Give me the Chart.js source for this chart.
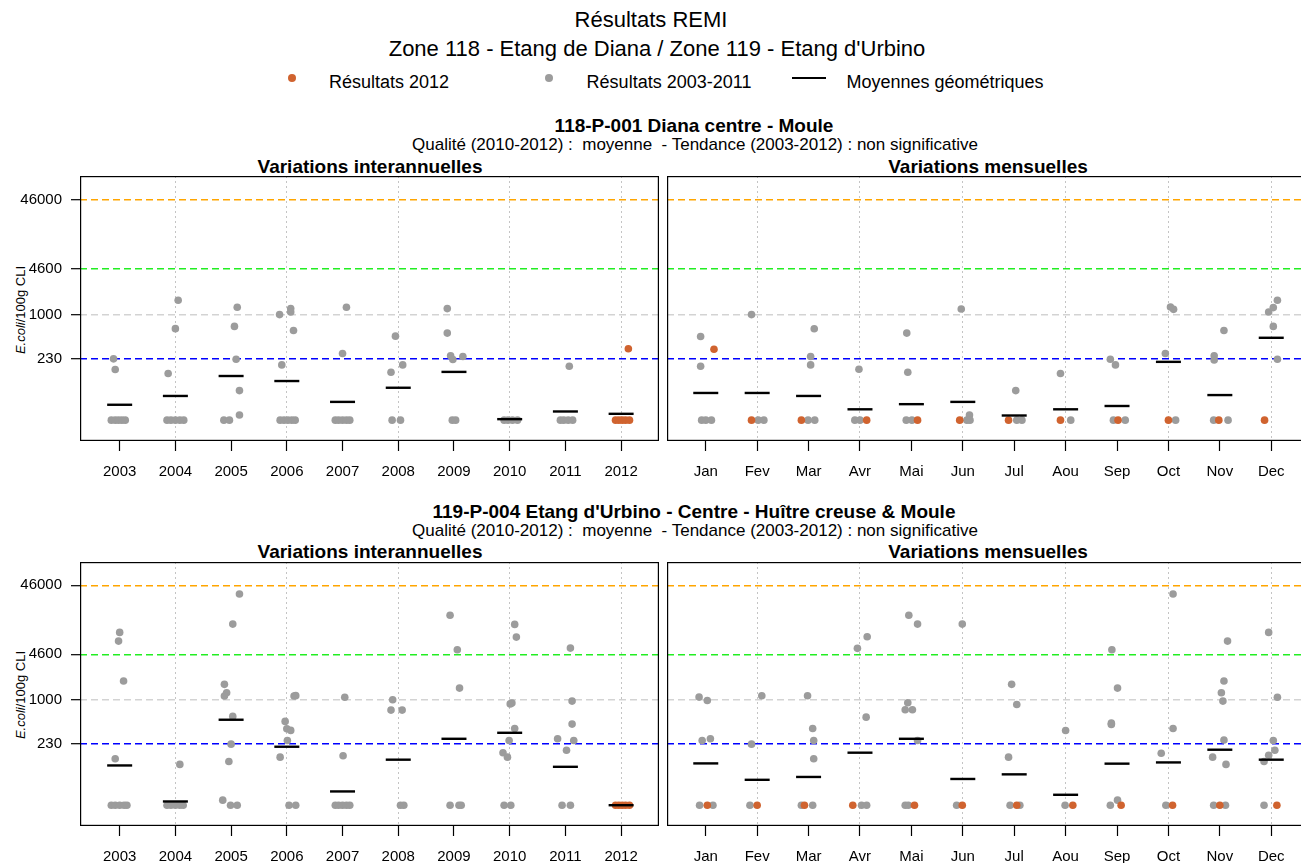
<!DOCTYPE html>
<html lang="fr">
<head>
<meta charset="UTF-8">
<title>Résultats REMI</title>
<script src="https://cdn.jsdelivr.net/npm/chart.js@4.4.0/dist/chart.umd.min.js"></script>
<style>
  html, body { margin: 0; padding: 0; overflow: hidden; background: #fff; }
  body { width: 1301px; height: 863px; position: relative; font-family: 'Liberation Sans', Arial, sans-serif; color: #000; }
  .t { position: absolute; white-space: nowrap; transform: translate(-50%, -50%); }
  .b { font-weight: bold; }
  canvas { position: absolute; }
  .ytitle { position: absolute; font-size: 13px; white-space: nowrap; transform: translate(-50%, -50%) rotate(-90deg); }
  .dot { position: absolute; width: 8px; height: 8px; border-radius: 50%; transform: translate(-50%, -50%); }
</style>
</head>
<body>
  <div class="t" style="left:651px;top:20px;font-size:22px">Résultats REMI</div>
  <div class="t" style="left:657px;top:49px;font-size:22px">Zone 118 - Etang de Diana / Zone 119 - Etang d'Urbino</div>

  <!-- legende -->
  <div class="dot" style="left:292px;top:78px;background:#d0632f"></div>
  <div class="t" style="left:389px;top:82px;font-size:18px">Résultats 2012</div>
  <div class="dot" style="left:549px;top:78px;background:#9c9c9c"></div>
  <div class="t" style="left:669px;top:82px;font-size:18px">Résultats 2003-2011</div>
  <div style="position:absolute;left:792px;top:77px;width:34px;height:2px;background:#000"></div>
  <div class="t" style="left:945px;top:82px;font-size:18px">Moyennes géométriques</div>

  <!-- point 118 -->
  <div class="t b" style="left:694px;top:126px;font-size:19px">118-P-001 Diana centre - Moule</div>
  <div class="t" style="left:695px;top:145px;font-size:17px">Qualité (2010-2012) :&nbsp; moyenne&nbsp; - Tendance (2003-2012) : non significative</div>
  <div class="t b" style="left:370px;top:167px;font-size:19px">Variations interannuelles</div>
  <div class="t b" style="left:988px;top:167px;font-size:19px">Variations mensuelles</div>
  <div class="ytitle" style="left:20px;top:310px"><i>E.coli</i>/100g CLI</div>
  <canvas id="c1" width="659" height="310" style="left:0;top:176px"></canvas>
  <canvas id="c2" width="643" height="310" style="left:667px;top:176px"></canvas>

  <!-- point 119 -->
  <div class="t b" style="left:694px;top:512px;font-size:19px">119-P-004 Etang d'Urbino - Centre - Huître creuse &amp; Moule</div>
  <div class="t" style="left:695px;top:531px;font-size:17px">Qualité (2010-2012) :&nbsp; moyenne&nbsp; - Tendance (2003-2012) : non significative</div>
  <div class="t b" style="left:370px;top:552px;font-size:19px">Variations interannuelles</div>
  <div class="t b" style="left:988px;top:552px;font-size:19px">Variations mensuelles</div>
  <div class="ytitle" style="left:20px;top:695px"><i>E.coli</i>/100g CLI</div>
  <canvas id="c3" width="659" height="309" style="left:0;top:562px"></canvas>
  <canvas id="c4" width="643" height="309" style="left:667px;top:562px"></canvas>

<script>
// categories
const years = ['2003', '2004', '2005', '2006', '2007', '2008', '2009', '2010', '2011', '2012'];
const months = ['Jan', 'Fev', 'Mar', 'Avr', 'Mai', 'Jun', 'Jul', 'Aou', 'Sep', 'Oct', 'Nov', 'Dec'];
// seuils (graduations de l'axe y)
const seuils = [230, 1000, 4600, 46000];

// 118-P-001 : [position categorie (avec dispersion), E.coli/100g]
const dianaAnGris = [
  [-0.11, 230], [-0.08, 161], [-0.15, 30], [-0.08, 30], [-0.02, 30], [0.04, 30], [0.1, 30],
  [1.05, 1610], [1.0, 627], [0.87, 141], [0.85, 30], [0.92, 30], [1.0, 30], [1.08, 30], [1.15, 30],
  [2.11, 1274], [2.06, 676], [2.09, 227], [2.15, 80], [2.15, 35.5], [1.87, 30], [1.97, 30],
  [2.87, 1000], [3.07, 1220], [3.07, 1090], [3.12, 591], [2.91, 188], [2.88, 30], [2.95, 30], [3.02, 30], [3.09, 30], [3.15, 30],
  [4.07, 1274], [4.0, 274], [3.87, 30], [3.93, 30], [4.0, 30], [4.07, 30], [4.13, 30],
  [4.95, 489], [5.08, 188], [4.87, 147], [4.89, 30], [5.04, 30],
  [5.88, 1220], [5.88, 541], [5.94, 254], [5.98, 225], [6.16, 248], [5.97, 30], [6.03, 30],
  [6.9, 30], [6.97, 30], [7.05, 30], [7.14, 30],
  [8.07, 180], [7.91, 30], [7.97, 30], [8.05, 30], [8.13, 30]
];
const dianaAn2012 = [[9.13, 321], [8.9, 30], [8.96, 30], [9.02, 30], [9.08, 30], [9.15, 30]];
const dianaAnMoy = [50, 67, 130, 110, 55, 88, 149, 31, 40, 37];

const dianaMoisGris = [
  [-0.1, 484], [-0.1, 180], [-0.08, 30], [0, 30], [0.11, 30],
  [0.89, 1000], [1.02, 30], [1.13, 30],
  [2.11, 626], [2.04, 248], [2.04, 188], [1.99, 30], [2.12, 30],
  [2.98, 163], [2.9, 30], [3.0, 30],
  [3.91, 541], [3.93, 147], [3.9, 30], [4.01, 30],
  [4.97, 1205], [5.13, 35.5], [5.08, 30], [5.14, 30],
  [6.03, 80], [6.05, 30], [6.15, 30],
  [6.9, 141], [7.1, 30],
  [7.87, 227], [7.97, 188], [7.93, 30], [8.16, 30],
  [9.04, 1288], [9.1, 1190], [8.94, 274], [9.14, 30],
  [10.08, 591], [9.89, 254], [9.89, 222], [9.88, 30], [10.16, 30],
  [11.12, 1610], [11.04, 1262], [10.95, 1091], [11.04, 676], [11.12, 227]
];
const dianaMois2012 = [[0.16, 317], [0.89, 30], [1.86, 30], [3.13, 30], [4.12, 30], [4.94, 30], [5.89, 30], [6.9, 30], [8.02, 30], [9.0, 30], [9.98, 30], [10.87, 30]];
const dianaMoisMoy = [74, 74, 67, 43, 51, 55, 35, 43, 48, 208, 69, 463];

// 119-P-004
const urbinoAnGris = [
  [0, 9550], [-0.02, 7150], [0.07, 1885], [-0.08, 141], [-0.15, 30], [-0.08, 30], [0, 30], [0.08, 30], [0.13, 30],
  [1.08, 117], [0.85, 30], [0.92, 30], [1.0, 30], [1.08, 30], [1.14, 30],
  [2.15, 34400], [2.03, 12600], [1.88, 1690], [1.92, 1280], [1.88, 1145], [2.03, 580], [2.0, 230], [1.96, 129], [1.85, 35.5], [1.99, 30], [2.11, 30],
  [3.13, 1145], [3.16, 1160], [2.97, 491], [3.0, 384], [3.07, 364], [3.01, 260], [2.88, 149], [3.04, 30], [3.16, 30],
  [4.04, 1100], [4.01, 156], [3.87, 30], [3.93, 30], [4.0, 30], [4.07, 30], [4.13, 30],
  [4.9, 1010], [4.87, 716], [5.07, 716], [5.04, 30], [5.1, 30],
  [5.93, 16900], [6.06, 5370], [6.1, 1490], [5.93, 30], [6.09, 30], [6.13, 30],
  [7.09, 12470], [7.12, 8170], [7.04, 904], [7.01, 880], [7.09, 388], [6.99, 260], [6.88, 173], [6.96, 149], [6.9, 30], [7.02, 30],
  [8.09, 5660], [8.12, 966], [8.12, 449], [7.86, 275], [8.15, 260], [8.02, 188], [7.94, 30], [8.09, 30]
];
const urbinoAn2012 = [[8.9, 30], [8.96, 30], [9.02, 30], [9.08, 30], [9.15, 30]];
const urbinoAnMoy = [113, 34, 519, 211, 47.5, 137, 275, 336, 108, 30];

const urbinoMoisGris = [
  [-0.13, 1105], [0.03, 988], [-0.07, 260], [0.09, 275], [-0.12, 30], [0.14, 30],
  [1.09, 1155], [0.89, 230], [0.86, 30],
  [1.98, 1155], [2.08, 388], [2.1, 260], [2.1, 141], [1.86, 30], [2.08, 30],
  [2.95, 5610], [3.14, 8280], [3.12, 566], [3.03, 30], [3.13, 30],
  [3.95, 16900], [4.12, 12600], [3.93, 916], [3.88, 725], [4.02, 725], [4.12, 260], [3.88, 30], [3.94, 30],
  [4.99, 12600], [4.88, 30],
  [5.95, 1690], [6.05, 865], [5.89, 149], [5.92, 30], [6.11, 30],
  [7.0, 363], [6.99, 30],
  [7.9, 5370], [8.01, 1490], [7.89, 463], [7.89, 443], [8.01, 35.5], [7.87, 30],
  [9.09, 34400], [9.09, 388], [8.86, 170], [8.95, 30],
  [10.15, 7150], [10.08, 1885], [10.03, 1280], [10.06, 966], [10.08, 264], [9.86, 149], [10.12, 117], [9.88, 30], [10.11, 30],
  [10.95, 9550], [11.12, 1100], [11.04, 260], [11.07, 188], [10.95, 159], [10.86, 129], [10.86, 30]
];
const urbinoMois2012 = [[0.03, 30], [1.0, 30], [1.92, 30], [2.86, 30], [4.06, 30], [4.99, 30], [6.05, 30], [7.14, 30], [8.08, 30], [9.08, 30], [10.0, 30], [11.11, 30]];
const urbinoMoisMoy = [121, 70, 77, 173, 275, 72, 84, 42.5, 120, 125, 191, 137];

const seuilCouleurs = { 230: '#0000ff', 1000: '#d3d3d3', 4600: '#22ee22', 46000: '#ffa500' };

// cadre noir autour de la zone de tracé (un peu en retrait pour ne pas etre coupé au bord du canvas)
const cadre = {
  id: 'cadre',
  afterDraw(chart) {
    const { ctx, chartArea: a } = chart;
    ctx.save();
    ctx.strokeStyle = '#000';
    ctx.lineWidth = 1.2;
    ctx.strokeRect(a.left + 0.6, a.top + 0.6, a.right - a.left - 1.2, a.bottom - a.top - 1.2);
    ctx.restore();
  }
};

function panel(id, labels, xmin, xmax, gris, orange, moy, avecY) {
  const pts = arr => arr.map(p => ({ x: p[0], y: p[1] }));
  new Chart(document.getElementById(id), {
    type: 'scatter',
    data: {
      datasets: [
        {
          data: moy.map((v, i) => ({ x: i, y: v })),
          pointStyle: 'line', pointRadius: 12.5, borderColor: '#000', borderWidth: 2.4, order: 0
        },
        { data: pts(orange), backgroundColor: '#d0632f', pointRadius: 3.8, borderWidth: 0, order: 1 },
        { data: pts(gris), backgroundColor: '#9c9c9c', pointRadius: 3.8, borderWidth: 0, order: 2 }
      ]
    },
    options: {
      responsive: false,
      animation: false,
      layout: { padding: 0, autoPadding: false },
      plugins: { legend: { display: false }, tooltip: { enabled: false } },
      scales: {
        x: {
          type: 'linear', min: xmin, max: xmax,
          afterBuildTicks: s => { s.ticks = labels.map((_, i) => ({ value: i })); },
          afterFit: s => { s.height = 45; s.paddingLeft = 0; s.paddingRight = 0; },
          ticks: {
            autoSkip: false, maxRotation: 0, padding: 12, color: '#000',
            font: { family: "'Liberation Sans', Arial", size: 15 },
            callback: v => labels[Math.round(v)]
          },
          grid: {
            color: c => (c.tick && c.tick.value % 2 === 1) ? '#c4c4c4' : 'rgba(0,0,0,0)',
            lineWidth: 1, tickColor: '#000', tickLength: 10, tickWidth: 1.2
          },
          border: { display: false, dash: [2, 3] }
        },
        y: {
          type: 'logarithmic', min: 15, max: 100000,
          afterBuildTicks: s => { s.ticks = seuils.map(v => ({ value: v })); },
          afterFit: s => { s.width = avecY ? 80 : 0; s.paddingTop = 0; s.paddingBottom = 0; },
          ticks: {
            display: avecY, padding: 9, color: '#000',
            font: { family: "'Liberation Sans', Arial", size: 15 },
            callback: v => String(v)
          },
          grid: {
            color: c => (c.tick ? seuilCouleurs[c.tick.value] : 'rgba(0,0,0,0)'),
            lineWidth: 1.4, drawTicks: avecY, tickColor: '#000', tickLength: 9, tickWidth: 1.2
          },
          border: { display: false, dash: [7, 4] }
        }
      }
    },
    plugins: [cadre]
  });
}

panel('c1', years, -0.712, 9.68, dianaAnGris, dianaAn2012, dianaAnMoy, true);
panel('c2', months, -0.754, 11.754, dianaMoisGris, dianaMois2012, dianaMoisMoy, false);
panel('c3', years, -0.712, 9.68, urbinoAnGris, urbinoAn2012, urbinoAnMoy, true);
panel('c4', months, -0.754, 11.754, urbinoMoisGris, urbinoMois2012, urbinoMoisMoy, false);
</script>
</body>
</html>
